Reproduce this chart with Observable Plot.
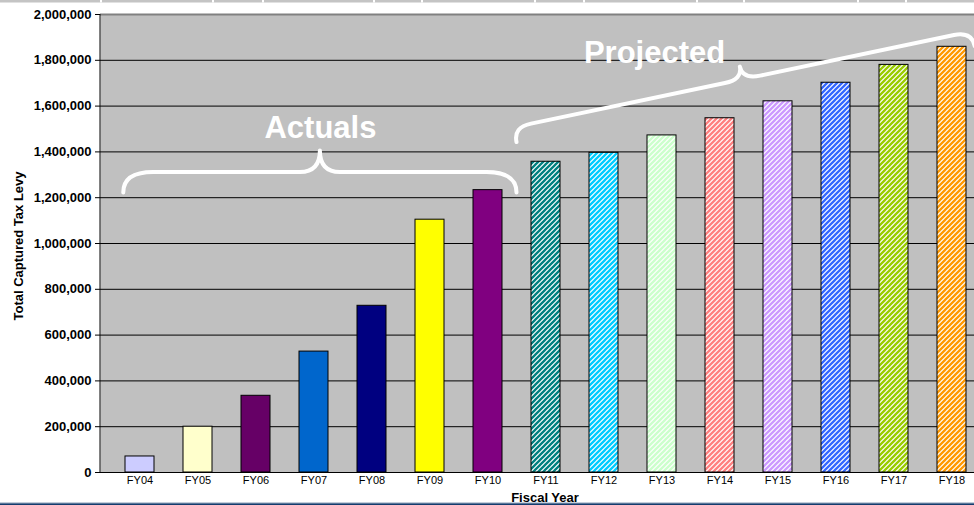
<!DOCTYPE html>
<html>
<head>
<meta charset="utf-8">
<script src="https://cdn.jsdelivr.net/npm/d3@7"></script>
<script src="https://cdn.jsdelivr.net/npm/@observablehq/plot@0.6"></script>
<style>
  html, body { margin: 0; padding: 0; background: #fff; }
  #chart svg { display: block; }
  g[aria-label="y-axis tick label"] { font-weight: bold; font-size: 13px; }
  g[aria-label="x-axis tick label"] { font-size: 11px; }
</style>
</head>
<body>
<div id="chart"></div>
<script>
// ---- data ----
const years = ["FY04","FY05","FY06","FY07","FY08","FY09","FY10","FY11","FY12","FY13","FY14","FY15","FY16","FY17","FY18"];
const levy = [70000, 200000, 335000, 528000, 728000, 1104000, 1233000, 1357000, 1396000, 1472000, 1547000, 1621000, 1702000, 1780000, 1859000];
const colors = ["#ccccff","#ffffcc","#660066","#0066cc","#000080","#ffff00","#800080","#008080","#00ccff","#ccffcc","#ff8080","#cc99ff","#3366ff","#99cc00","#ff9900"];
const projected = [false,false,false,false,false,false,false,true,true,true,true,true,true,true,true];
const yTicks = [0, 200000, 400000, 600000, 800000, 1000000, 1200000, 1400000, 1600000, 1800000, 2000000];
const gridTicks = [200000, 400000, 600000, 800000, 1000000, 1200000, 1400000, 1600000, 1800000];

// annotation braces: [category, offset in category steps, value]
const braceLabels = ["Actuals", "Projected"];
const braceStart = [["FY04", -0.28, 1220000], ["FY11", -0.5, 1441000]];
const braceEnd   = [["FY10", 0.5, 1220000], ["FY18", 0.4, 1860000]];
const braceLabelPos = [["FY07", 0.12, 1458000], ["FY13", -0.12, 1787000]];

const data = years.map((year, i) => ({
  year,
  levy: levy[i],
  fill: projected[i] ? `url(#hatch${i})` : colors[i]
}));

const FONT = "'Liberation Sans', Arial, Helvetica, sans-serif";
const W = 974, H = 505;
const chart = Plot.plot({
  width: W,
  height: H,
  marginLeft: 100,
  marginRight: 0,
  marginTop: 14,
  marginBottom: 33,
  style: { fontFamily: FONT, color: "black", background: "white", overflow: "hidden" },
  x: { domain: years, range: [107, 983], paddingInner: 0.5, paddingOuter: 0.25 },
  y: { domain: [0, 2000000] },
  color: { type: "identity" },
  marks: [
    Plot.frame({ fill: "#c0c0c0", stroke: "none" }),
    Plot.ruleY(gridTicks, { stroke: "black", strokeWidth: 1 }),
    Plot.barY(data, { x: "year", y: "levy", fill: "fill", stroke: "black", strokeWidth: 1 }),
    Plot.ruleY([0], { stroke: "black", strokeWidth: 1 }),
    Plot.ruleY([2000000], { stroke: "#808080", strokeWidth: 2 }),
    Plot.axisY({ ticks: yTicks, tickFormat: d3.format(","), tickSize: 5, tickPadding: 4, label: null }),
    Plot.axisX({ tickSize: 0, tickPadding: 4, label: null })
  ]
});
document.getElementById("chart").appendChild(chart);

const svg = d3.select(chart);
const sx = chart.scale("x"), sy = chart.scale("y");
const cx = (cat, off) => sx.apply(cat) + sx.bandwidth / 2 + off * sx.step;

// hatch patterns (wide upward diagonal)
const defs = svg.insert("defs", ":first-child");
years.forEach((y, i) => {
  if (!projected[i]) return;
  const s = 5;
  const p = defs.append("pattern").attr("id", `hatch${i}`)
    .attr("patternUnits", "userSpaceOnUse").attr("width", s).attr("height", s);
  p.append("rect").attr("width", s).attr("height", s).attr("fill", "white");
  p.append("path").attr("d", `M-1,1 l2,-2 M0,${s} l${s},-${s} M${s - 1},${s + 1} l2,-2`)
    .attr("stroke", colors[i]).attr("stroke-width", 2.3).attr("fill", "none");
});

const overlay = svg.append("g").attr("font-family", FONT);

// left axis line
overlay.append("line")
  .attr("x1", 100).attr("x2", 100)
  .attr("y1", sy.apply(2000000)).attr("y2", sy.apply(0))
  .attr("stroke", "black");

// top strip (slide artifact)
const strip = overlay.append("g");
strip.append("rect").attr("x", 0).attr("y", 0).attr("width", W).attr("height", 2.5).attr("fill", "#c4c4c4");
[100, 212, 262, 373, 421, 534, 583, 696, 743, 857, 905].forEach(x =>
  strip.append("rect").attr("x", x).attr("y", 0).attr("width", 2).attr("height", 2.5).attr("fill", "white"));

// braces
const braceStyle = [
  { h: 20.5, D: 42, r: 30, r2: 20 },
  { h: 15, D: 28, r: 18, r2: 18 }
];
function bracePath(p0, p1, s) {
  const dx = p1[0] - p0[0], dy = p1[1] - p0[1];
  const L = Math.hypot(dx, dy);
  const d = [dx / L, dy / L];
  const n = [d[1], -d[0]];
  const P = (u, v) => `${p0[0] + u * d[0] + v * n[0]},${p0[1] + u * d[1] + v * n[1]}`;
  const m = L / 2;
  return `M${P(0,0)} Q${P(0,s.h)} ${P(s.r,s.h)} L${P(m - s.r2, s.h)} Q${P(m, s.h)} ${P(m, s.D)} ` +
         `Q${P(m, s.h)} ${P(m + s.r2, s.h)} L${P(L - s.r, s.h)} Q${P(L, s.h)} ${P(L, 0)}`;
}
braceLabels.forEach((label, i) => {
  const a = braceStart[i], b = braceEnd[i];
  const p0 = [cx(a[0], a[1]), sy.apply(a[2])];
  const p1 = [cx(b[0], b[1]), sy.apply(b[2])];
  overlay.append("path").attr("d", bracePath(p0, p1, braceStyle[i]))
    .attr("fill", "none").attr("stroke", "white").attr("stroke-width", 4)
    .attr("stroke-linecap", "round").attr("stroke-linejoin", "round");
  const t = braceLabelPos[i];
  overlay.append("text").attr("x", cx(t[0], t[1])).attr("y", sy.apply(t[2]))
    .attr("text-anchor", "middle").attr("fill", "white")
    .attr("font-size", 31).attr("font-weight", "bold").text(label);
});

// axis titles
overlay.append("text")
  .attr("transform", "translate(23,246) rotate(-90)")
  .attr("text-anchor", "middle").attr("font-size", 13).attr("font-weight", "bold")
  .attr("fill", "black").text("Total Captured Tax Levy");
overlay.append("text")
  .attr("x", 545).attr("y", 501.5)
  .attr("text-anchor", "middle").attr("font-size", 13).attr("font-weight", "bold")
  .attr("fill", "black").text("Fiscal Year");

// bottom slide rule
overlay.append("rect").attr("x", 0).attr("y", 502.6).attr("width", W).attr("height", 0.8).attr("fill", "#6d86a6");
overlay.append("rect").attr("x", 0).attr("y", 503.4).attr("width", W).attr("height", 1.6).attr("fill", "#143c6e");
</script>
</body>
</html>
